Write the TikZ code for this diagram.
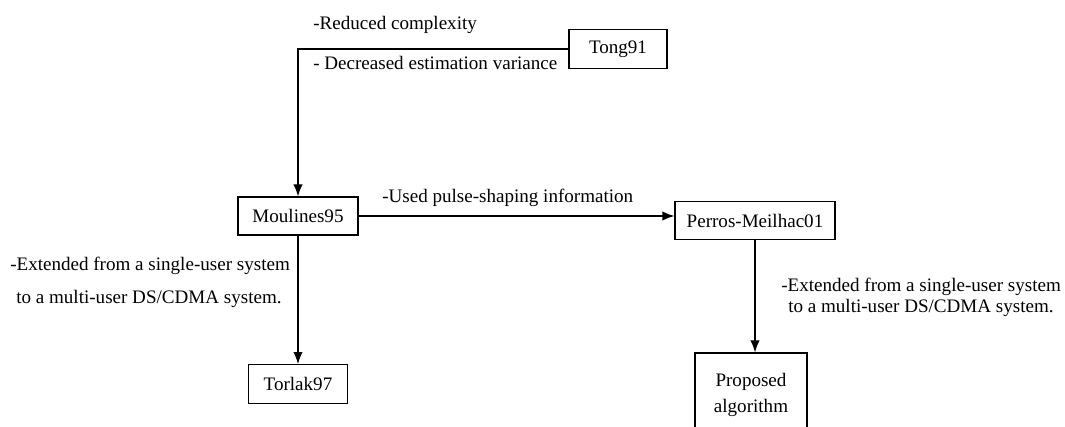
\documentclass[tikz,border=0pt]{standalone}
\usepackage{fontspec}
\setmainfont{Liberation Serif}
\usetikzlibrary{positioning,arrows.meta}
\begin{document}
\begin{tikzpicture}[x=0.75pt,y=-0.75pt,
		font=\fontsize{14.3}{16}\selectfont,
		paper/.style={draw,line width=0.9pt,inner sep=0pt,minimum height=29pt},
		note/.style={anchor=west,inner sep=0pt},
		link/.style={line width=0.9pt,-{Latex[length=9pt,width=7pt]}}]
			\useasboundingbox (0,0) rectangle (1065,427);
			% papers
			\node[paper,minimum width=73.5pt] (tong) at (618,49) {Tong91};
			\node[paper,minimum width=90pt,minimum height=28.5pt] (moulines) at (298,216) {Moulines95};
			\node[paper,minimum width=120pt] (perros) at (755,220.5) {Perros-Meilhac01};
			\node[paper,minimum width=74pt] (torlak) at (298,384) {Torlak97};
			\node[paper,minimum width=84pt,minimum height=63pt,align=center] (proposed) at (751,395) {Proposed\\[3pt]algorithm};
			% links
			\draw[link] (tong.west) -| (moulines.north);
			\draw[link] (moulines.east) -- (moulines.east -| perros.west);
			\draw[link] (moulines.south) -- (torlak.north);
			\draw[link] (perros.south) -- (perros.south |- proposed.north);
			% notes
			\node[note] (n1) at (313,25) {-Reduced complexity};
			\node[note] (n2) at (313,63) {- Decreased estimation variance};
			\node[note] (n3) at (382,198) {-Used pulse-shaping information};
			\node[note] (n4) at (10,266) {-Extended from a single-user system};
			\node[note] (n5) at (16,299) {to a multi-user DS/CDMA system.};
			\node[note] (n6) at (781,287) {-Extended from a single-user system};
			\node[note] (n7) at (788,308) {to a multi-user DS/CDMA system.};
		\end{tikzpicture}
\end{document}
